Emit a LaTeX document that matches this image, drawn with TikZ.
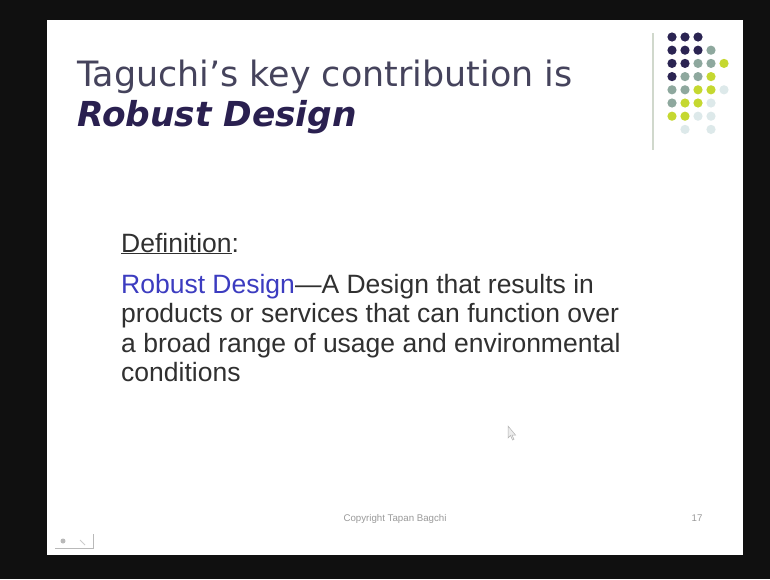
\documentclass[tikz,border=0pt]{standalone}
\usepackage{fontspec}
\setmainfont{Liberation Sans}
\newfontfamily\titlefont{DejaVu Sans}
\definecolor{bgdark}{HTML}{101010}
\definecolor{titlegray}{HTML}{45435C}
\definecolor{titlenavy}{HTML}{2A2050}
\definecolor{bodygray}{HTML}{303030}
\definecolor{linkblue}{HTML}{3C3CC0}
\definecolor{dotN}{HTML}{2B2452}
\definecolor{dotT}{HTML}{8EA89E}
\definecolor{dotY}{HTML}{C5D830}
\definecolor{dotL}{HTML}{DDE9EA}
\definecolor{rulegray}{HTML}{D0D8CC}
\definecolor{footgray}{HTML}{9A9A9A}
\begin{document}
\begin{tikzpicture}[x=1pt,y=-1pt,
  titleline/.style={anchor=base west,inner sep=0pt,font=\titlefont\fontsize{34.4}{40}\selectfont},
  bodyline/.style={anchor=base west,inner sep=0pt,text=bodygray,font=\fontsize{26.5}{30}\selectfont},
  foot/.style={anchor=base,inner sep=0pt,text=footgray,font=\fontsize{9.7}{11}\selectfont}]
\useasboundingbox (0,0) rectangle (770,579);
\fill[bgdark] (0,0) rectangle (770,579);
\fill[white] (47,20) rectangle (743,555);
% title
\node[titleline,text=titlegray,font=\titlefont\fontsize{34.9}{40}\selectfont] (t1) at (77,86) {Taguchi’s key contribution is};
\node[titleline,text=titlenavy] (t2) at (77,126) {\bfseries\itshape Robust Design};
% logo
\draw[rulegray,line width=1.5pt] (653,33) -- (653,150);
\foreach \r/\row in {0/{N,N,N}, 1/{N,N,N,T}, 2/{N,N,T,T,Y}, 3/{N,T,T,Y}, 4/{T,T,Y,Y,L}, 5/{T,Y,Y,L}, 6/{Y,Y,L,L}} {
  \foreach \c [count=\i from 0] in \row {
    \fill[dot\c] (672+13*\i,37+13.2*\r) circle (4.6);
  }
}
\fill[dotL] (685,129.4) circle (4.6);
\fill[dotL] (711,129.4) circle (4.6);
% body
\node[bodyline] (def) at (121,252) {\underline{Definition}:};
\node[bodyline] (b1) at (121,293) {\textcolor{linkblue}{Robust Design}—A Design that results in};
\node[bodyline] (b2) at (121,322.5) {products or services that can function over};
\node[bodyline] (b3) at (121,352) {a broad range of usage and environmental};
\node[bodyline] (b4) at (121,381) {conditions};
% footer
\node[foot] (copy) at (395,521) {Copyright Tapan Bagchi};
\node[foot] (num) at (697,521) {17};
% navigation icon
\fill[gray!55] (63,541) circle (2.5);
\draw[gray!55,line width=1pt] (55,548) -- (93,548) -- (93,534);
\draw[gray!40,line width=0.8pt] (80,540) -- (85,545);
% cursor
\filldraw[fill=gray!15,draw=gray!60,line width=0.5pt] (508,426) -- (508,438) -- (510.5,435.5) -- (512.5,440) -- (514,439.3) -- (512,435) -- (515.5,435) -- cycle;
\end{tikzpicture}
\end{document}
